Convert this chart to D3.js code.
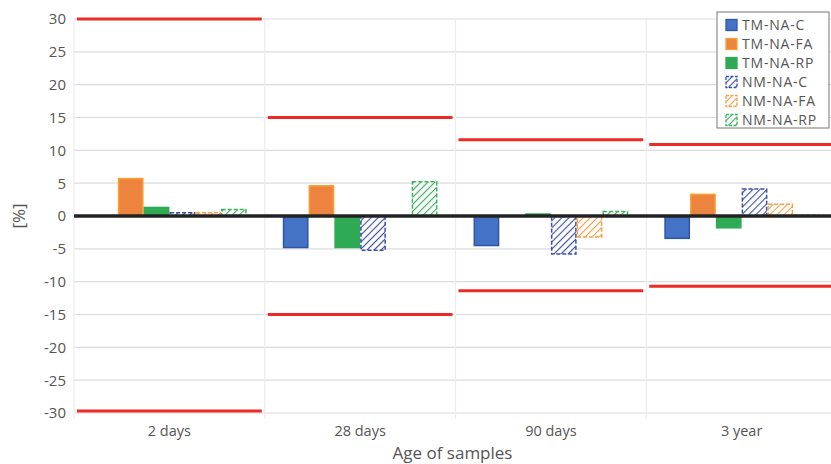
<!DOCTYPE html>
<html>
<head>
<meta charset="utf-8">
<script src="https://cdn.jsdelivr.net/npm/d3@7"></script>
<style>
  body { margin: 0; background: #fff; }
  svg text { font-family: "Open Sans", sans-serif; fill: #555; }
</style>
</head>
<body>
<div id="chart"></div>
<script>
// chart data
const ages = ["2 days", "28 days", "90 days", "3 year"];
const seriesNames = ["TM-NA-C", "TM-NA-FA", "TM-NA-RP", "NM-NA-C", "NM-NA-FA", "NM-NA-RP"];
const tmNaC  = [0.0, -4.8, -4.5, -3.4];
const tmNaFA = [5.7, 4.6, 0.0, 3.3];
const tmNaRP = [1.3, -4.8, 0.3, -1.8];
const nmNaC  = [0.5, -5.2, -5.8, 4.1];
const nmNaFA = [0.5, 0.0, -3.2, 1.8];
const nmNaRP = [1.0, 5.2, 0.7, 0.1];
const limitUpper = [30.0, 15.0, 11.6, 10.9];
const limitLower = [-29.7, -15.0, -11.4, -10.7];
const yTicks = [-30, -25, -20, -15, -10, -5, 0, 5, 10, 15, 20, 25, 30];

const seriesValues = [tmNaC, tmNaFA, tmNaRP, nmNaC, nmNaFA, nmNaRP];
const colors = ["#4472c4", "#ec8440", "#2eaa55", "#3a4fa8", "#f5a04a", "#3cb45c"];
const strokes = ["#2f55a8", "#f9a030", "#2eaa55", "#3a4fa8", "#f5a04a", "#3cb45c"];
const hatched = [false, false, false, true, true, true];

const width = 831, height = 464;
const margin = { top: 19, right: -6, bottom: 51, left: 74 };
const innerW = width - margin.left - margin.right;
const innerH = height - margin.top - margin.bottom;

const svg = d3.select("#chart").append("svg")
    .attr("width", width)
    .attr("height", height);

const defs = svg.append("defs");
colors.forEach((c, i) => {
    if (!hatched[i]) return;
    const p = defs.append("pattern")
        .attr("id", "hatch" + i)
        .attr("patternUnits", "userSpaceOnUse")
        .attr("width", 5)
        .attr("height", 5)
        .attr("patternTransform", "rotate(45)");
    p.append("rect").attr("width", 5).attr("height", 5).attr("fill", "#fff");
    p.append("line")
        .attr("x1", 0).attr("y1", 0).attr("x2", 0).attr("y2", 5)
        .attr("stroke", c).attr("stroke-width", 2.2);
});

const g = svg.append("g").attr("transform", `translate(${margin.left},${margin.top})`);

const x = d3.scaleBand().domain(ages).range([0, innerW]).padding(0);
const xInner = d3.scaleBand().domain(seriesNames).range([0, x.bandwidth()])
    .paddingInner(0).paddingOuter(0.7);
const y = d3.scaleLinear().domain([-30, 30]).range([innerH, 0]);

// horizontal grid
g.append("g").selectAll("line")
    .data(yTicks)
    .enter().append("line")
    .attr("x1", 0).attr("x2", innerW)
    .attr("y1", d => y(d)).attr("y2", d => y(d))
    .attr("stroke", "#dcdcdc")
    .attr("stroke-width", 1.2);

// vertical grid at category boundaries
g.append("g").selectAll("line")
    .data(ages)
    .enter().append("line")
    .attr("x1", d => x(d)).attr("x2", d => x(d))
    .attr("y1", 0).attr("y2", innerH + 6)
    .attr("stroke", "#ececec")
    .attr("stroke-width", 1.2);

// y tick labels
g.append("g").selectAll("text")
    .data(yTicks)
    .enter().append("text")
    .attr("x", -8)
    .attr("y", d => y(d))
    .attr("dy", "0.36em")
    .attr("text-anchor", "end")
    .style("font-size", "15px")
    .text(d => d);

// x tick labels
g.append("g").selectAll("text")
    .data(ages)
    .enter().append("text")
    .attr("x", d => x(d) + x.bandwidth() / 2)
    .attr("y", innerH + 23)
    .attr("text-anchor", "middle")
    .style("font-size", "14.5px")
    .text(d => d);

// bars
const bars = [];
seriesValues.forEach((vals, si) => {
    vals.forEach((v, ai) => bars.push({ s: si, age: ages[ai], v }));
});

g.append("g").selectAll("rect")
    .data(bars)
    .enter().append("rect")
    .attr("x", d => x(d.age) + xInner(seriesNames[d.s]) + 0.75)
    .attr("y", d => y(Math.max(0, d.v)))
    .attr("width", xInner.bandwidth() - 1.5)
    .attr("height", d => Math.abs(y(d.v) - y(0)))
    .attr("fill", d => hatched[d.s] ? `url(#hatch${d.s})` : colors[d.s])
    .attr("stroke", d => strokes[d.s])
    .attr("stroke-width", 1.5)
    .attr("stroke-dasharray", d => hatched[d.s] ? "4,2" : null);

// limit lines
const limits = ages.map((a, i) => ({ age: a, up: limitUpper[i], low: limitLower[i] }));
const lim = g.append("g");
["up", "low"].forEach(k => {
    lim.selectAll("line." + k)
        .data(limits)
        .enter().append("line")
        .attr("class", k)
        .attr("x1", d => x(d.age) + 3)
        .attr("x2", d => x(d.age) + x.bandwidth() - 3)
        .attr("y1", d => y(d[k])).attr("y2", d => y(d[k]))
        .attr("stroke", "#ee2a24")
        .attr("stroke-width", 3);
});

// zero line
g.append("line")
    .attr("x1", 0).attr("x2", innerW)
    .attr("y1", y(0)).attr("y2", y(0))
    .attr("stroke", "#222")
    .attr("stroke-width", 3.5);

// axis titles
svg.append("text")
    .attr("transform", `translate(25,${margin.top + y(0)}) rotate(-90)`)
    .attr("text-anchor", "middle")
    .style("font-size", "17px")
    .text("[%]");

svg.append("text")
    .attr("x", margin.left + innerW / 2 - 3)
    .attr("y", 459)
    .attr("text-anchor", "middle")
    .style("font-size", "17px")
    .text("Age of samples");

// legend
const legend = svg.append("g").attr("transform", "translate(717,12)");
legend.append("rect")
    .attr("width", 112).attr("height", 116)
    .attr("fill", "#fff")
    .attr("stroke", "#777")
    .attr("stroke-width", 1);

const item = legend.selectAll("g.item")
    .data(seriesNames)
    .enter().append("g")
    .attr("class", "item")
    .attr("transform", (d, i) => `translate(9,${13 + i * 19})`);

item.append("rect")
    .attr("x", 0).attr("y", -5.5)
    .attr("width", 11).attr("height", 11)
    .attr("fill", (d, i) => hatched[i] ? `url(#hatch${i})` : colors[i])
    .attr("stroke", (d, i) => strokes[i])
    .attr("stroke-width", 1.3)
    .attr("stroke-dasharray", (d, i) => hatched[i] ? "3,1.5" : null);

item.append("text")
    .attr("x", 16)
    .attr("dy", "0.36em")
    .style("font-size", "14px")
    .style("letter-spacing", "0.8px")
    .text(d => d);
</script>
</body>
</html>
